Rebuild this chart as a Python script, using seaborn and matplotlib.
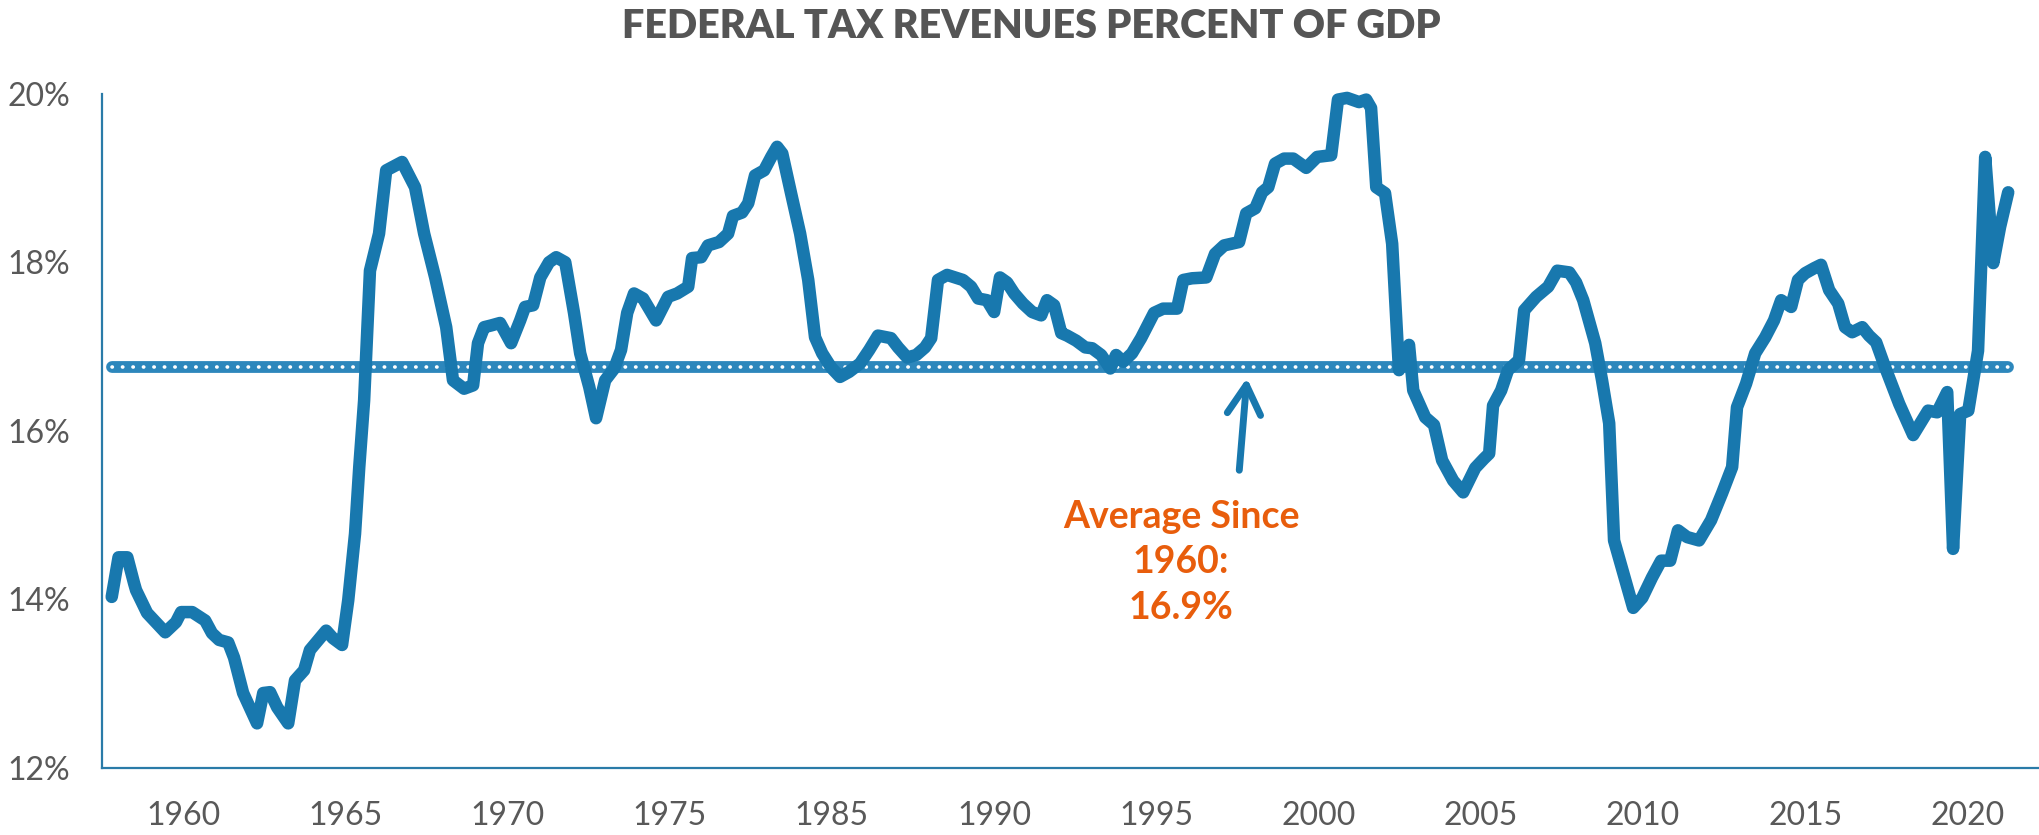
import numpy as np
import pandas as pd
import matplotlib
matplotlib.use("Agg")
import matplotlib.pyplot as plt
import seaborn as sns

# Axis position of each traced vertex (chart's own year scale) and the tax share in %
year_pos = [
    1957.80, 1958.01, 1958.28, 1958.49, 1958.55, 1958.89, 1959.45, 1959.78, 1959.94, 1960.28,
    1960.68, 1960.89, 1961.11, 1961.39, 1961.57, 1961.85, 1962.28, 1962.47, 1962.68, 1962.90,
    1963.24, 1963.45, 1963.73, 1963.91, 1964.41, 1964.62, 1964.90, 1965.09, 1965.30, 1965.43,
    1965.58, 1965.76, 1966.04, 1966.26, 1966.75, 1967.15, 1967.43, 1967.77, 1968.11, 1968.32,
    1968.66, 1968.94, 1969.09, 1969.28, 1969.49, 1969.77, 1970.11, 1970.39, 1970.54, 1970.79,
    1971.01, 1971.28, 1971.50, 1971.78, 1972.05, 1972.24, 1972.52, 1972.73, 1973.01, 1973.29,
    1973.50, 1973.69, 1973.90, 1974.18, 1974.58, 1974.95, 1975.23, 1975.57, 1975.69, 1975.97,
    1976.18, 1976.52, 1976.80, 1976.95, 1977.23, 1977.42, 1977.63, 1977.91, 1978.13, 1978.31,
    1978.47, 1978.74, 1979.02, 1979.27, 1979.48, 1979.70, 1979.98, 1980.25, 1980.53, 1980.87,
    1981.15, 1981.42, 1981.82, 1982.04, 1982.32, 1982.60, 1982.87, 1983.06, 1983.27, 1983.55,
    1984.04, 1984.29, 1984.51, 1984.78, 1985.00, 1985.18, 1985.40, 1985.62, 1985.89, 1986.17,
    1986.45, 1986.63, 1986.85, 1987.07, 1987.25, 1987.53, 1987.81, 1988.02, 1988.30, 1988.58,
    1988.76, 1988.98, 1989.25, 1989.53, 1989.93, 1990.21, 1990.64, 1990.83, 1991.10, 1991.54,
    1991.81, 1992.09, 1992.55, 1992.77, 1993.05, 1993.26, 1993.45, 1993.66, 1993.94, 1994.22,
    1994.62, 1994.96, 1995.39, 1995.60, 1995.88, 1996.25, 1996.47, 1996.62, 1996.78, 1997.05,
    1997.27, 1997.48, 1997.79, 1997.92, 1998.29, 1998.56, 1998.81, 1999.15, 1999.46, 1999.83,
    2000.10, 2000.26, 2000.38, 2000.63, 2000.84, 2001.18, 2001.34, 2001.71, 2002.08, 2002.36,
    2002.73, 2002.94, 2003.16, 2003.53, 2003.74, 2003.96, 2004.11, 2004.70, 2004.98, 2005.28,
    2005.56, 2005.84, 2006.08, 2006.36, 2006.73, 2007.10, 2007.44, 2007.75, 2007.90, 2008.18,
    2008.46, 2008.77, 2009.04, 2009.26, 2009.57, 2009.78, 2010.00, 2010.28, 2010.49, 2010.74,
    2011.02, 2011.23, 2011.45, 2011.76, 2011.97, 2012.19, 2012.47, 2012.90, 2013.33, 2013.79,
    2014.07, 2014.38, 2014.56, 2014.78, 2015.03, 2015.33, 2015.55, 2015.80, 2016.01, 2016.26,
]
revenue_pct = [
    14.03, 14.50, 14.50, 14.19, 14.11, 13.84, 13.61, 13.73, 13.85, 13.85,
    13.75, 13.60, 13.52, 13.49, 13.31, 12.89, 12.53, 12.89, 12.90, 12.72,
    12.53, 13.04, 13.16, 13.40, 13.63, 13.54, 13.46, 13.99, 14.78, 15.57,
    16.36, 17.90, 18.34, 19.09, 19.19, 18.89, 18.34, 17.82, 17.23, 16.60,
    16.50, 16.54, 17.04, 17.23, 17.25, 17.28, 17.04, 17.31, 17.47, 17.49,
    17.82, 18.00, 18.06, 18.00, 17.40, 16.92, 16.52, 16.15, 16.60, 16.74,
    16.96, 17.40, 17.63, 17.57, 17.31, 17.59, 17.63, 17.71, 18.05, 18.06,
    18.20, 18.24, 18.34, 18.55, 18.59, 18.70, 19.03, 19.09, 19.25, 19.37,
    19.29, 18.82, 18.34, 17.79, 17.11, 16.92, 16.75, 16.64, 16.70, 16.80,
    16.96, 17.13, 17.10, 16.99, 16.87, 16.90, 16.99, 17.10, 17.79, 17.85,
    17.79, 17.71, 17.57, 17.55, 17.41, 17.82, 17.76, 17.63, 17.51, 17.41,
    17.37, 17.55, 17.49, 17.16, 17.13, 17.07, 16.99, 16.98, 16.90, 16.74,
    16.90, 16.82, 16.92, 17.10, 17.40, 17.45, 17.45, 17.79, 17.81, 17.82,
    18.10, 18.20, 18.24, 18.58, 18.64, 18.83, 18.89, 19.17, 19.23, 19.23,
    19.12, 19.25, 19.27, 19.93, 19.95, 19.90, 19.93, 19.83, 18.89, 18.82,
    18.22, 16.72, 17.02, 16.48, 16.16, 16.07, 15.65, 15.41, 15.27, 15.56,
    15.67, 15.73, 16.30, 16.48, 16.72, 16.84, 17.43, 17.59, 17.71, 17.90,
    17.88, 17.76, 17.55, 17.04, 16.60, 16.09, 14.70, 13.90, 14.02, 14.26,
    14.46, 14.46, 14.82, 14.74, 14.70, 14.94, 15.26, 15.57, 16.28, 16.56,
    16.92, 17.11, 17.31, 17.55, 17.47, 17.79, 17.87, 17.93, 17.97, 17.67,
    17.51, 17.23, 17.17, 17.23, 17.13, 17.05, 16.75, 16.32, 15.95, 16.24,
    16.22, 16.46, 14.60, 16.20, 16.24, 16.95, 19.25, 17.99, 18.42, 18.83,
]

avg_value = 16.76
avg_label = "Average Since\n1960:\n16.9%"

tick_pos = [1960, 1965, 1970, 1975, 1980, 1985, 1990, 1995, 2000, 2005, 2010, 2015]
tick_labels = ["1960", "1965", "1970", "1975", "1985", "1990",
               "1995", "2000", "2005", "2010", "2015", "2020"]
y_ticks = [12, 14, 16, 18, 20]

df = pd.DataFrame({"pos": year_pos, "pct": revenue_pct})

sns.set_style("white")
plt.rcParams["font.family"] = ["Lato", "DejaVu Sans"]

line_blue = "#1878ae"
band_blue = "#2d87bc"
grey = "#595959"
orange = "#e85d0c"

fig = plt.figure(figsize=(20.4, 8.35), dpi=100)
ax = fig.add_axes([0.05, 0.0802, 0.95, 0.8076])

# average band with white dots inside
ax.plot([year_pos[0], year_pos[-1]], [avg_value, avg_value], color=band_blue,
        lw=8.5, solid_capstyle="round", zorder=2)
ax.plot([year_pos[0], year_pos[-1]], [avg_value, avg_value], color="white",
        lw=2.6, dashes=(0.1, 2.8), dash_capstyle="round", zorder=2.5)

sns.lineplot(data=df, x="pos", y="pct", ax=ax, color=line_blue, lw=9,
             sort=False, estimator=None, zorder=3, clip_on=False)
ax.lines[-1].set_solid_joinstyle("round")
ax.lines[-1].set_solid_capstyle("round")

# arrow pointing at the average line
ax.annotate("", xy=(1992.80, 16.66), xytext=(1992.55, 15.50),
            arrowprops=dict(arrowstyle="->, head_length=1.05, head_width=0.6",
                            color=line_blue, lw=5, mutation_scale=20,
                            capstyle="round", joinstyle="round"))
ax.text(1990.76, 14.44, avg_label, color=orange, fontsize=27, fontweight="bold",
        ha="center", va="center", linespacing=1.42)

ax.set_xlim(1957.5, 2017.24)
ax.set_ylim(12, 20)
ax.set_xticks(tick_pos)
ax.set_xticklabels(tick_labels)
ax.set_yticks(y_ticks)
ax.set_yticklabels([f"{v}%" for v in y_ticks])
ax.tick_params(axis="x", length=0, pad=24, labelsize=23, labelcolor=grey)
ax.tick_params(axis="y", length=0, pad=23, labelsize=23, labelcolor=grey)
ax.set_xlabel("")
ax.set_ylabel("")
for s in ["top", "right"]:
    ax.spines[s].set_visible(False)
for s in ["left", "bottom"]:
    ax.spines[s].set_color("#2a7ba8")
    ax.spines[s].set_linewidth(1.6)

fig.text(0.5054, 0.9677, "FEDERAL TAX REVENUES PERCENT OF GDP", color="#555555",
         fontsize=28.5, fontweight="heavy", ha="center", va="center")

fig.savefig("out.png", dpi=100)
